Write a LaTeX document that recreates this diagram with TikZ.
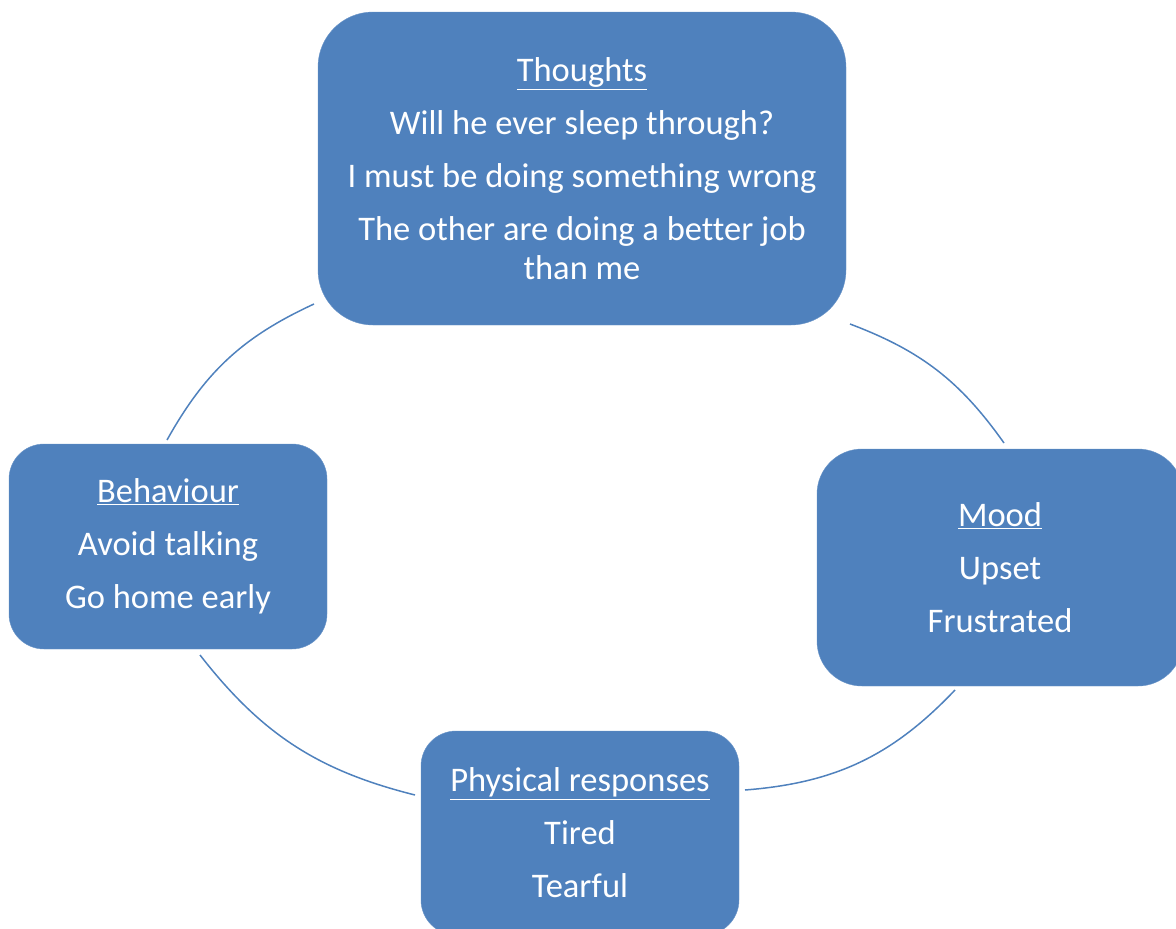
\documentclass[tikz,border=0pt]{standalone}
\usepackage{fontspec}
\setmainfont[Ligatures=NoCommon]{Carlito}
\usetikzlibrary{positioning}
\definecolor{boxblue}{HTML}{4F81BD}
\tikzset {
  every node/.style={font=\fontsize{34.5}{38.5}\selectfont},
  box/.style={rectangle, fill=boxblue, draw=boxblue!85!white, text=white,
    align=center, inner sep=0pt},
  link/.style={boxblue, line width=1.5pt},
}

\begin{document}
\begin{tikzpicture}[x=1pt,y=-1pt]
  \useasboundingbox (0,0) rectangle (1176,929);
  % the four boxes
  \node[box, rounded corners=55, minimum width=528, minimum height=313] (thoughts) at (582,168.5)
    {\underline{Thoughts}\\[14.5pt] Will he ever sleep through?\\[14.5pt]
     I must be doing something wrong\\[14.5pt] The other are doing a better job\\ than me};
  \node[box, rounded corners=35, minimum width=318, minimum height=205] (behaviour) at (168,546.5)
    {\underline{Behaviour}\\[14.5pt] Avoid talking\\[14.5pt] Go home early};
  \node[box, rounded corners=45, minimum width=366, minimum height=237] (mood) at (1000,567.5)
    {\underline{Mood}\\[14.5pt] Upset\\[14.5pt] Frustrated};
  \node[box, rounded corners=35, minimum width=318, minimum height=204] (physical) at (580,833)
    {\underline{Physical responses}\\[14.5pt] Tired\\[14.5pt] Tearful};
  % ends of the arcs
  \coordinate (t1) at (314,304);
  \coordinate (b1) at (167,440);
  \coordinate (t2) at (850,324);
  \coordinate (m1) at (1004,443);
  \coordinate (m2) at (955,690);
  \coordinate (p2) at (745,790);
  \coordinate (b2) at (200,655);
  \coordinate (p1) at (415,795);
  \draw[link] (t1) to[bend right=18] (b1);
  \draw[link] (t2) to[bend left=17] (m1);
  \draw[link] (m2) to[bend left=21] (p2);
  \draw[link] (b2) to[bend right=19] (p1);
\end{tikzpicture}
\end{document}
